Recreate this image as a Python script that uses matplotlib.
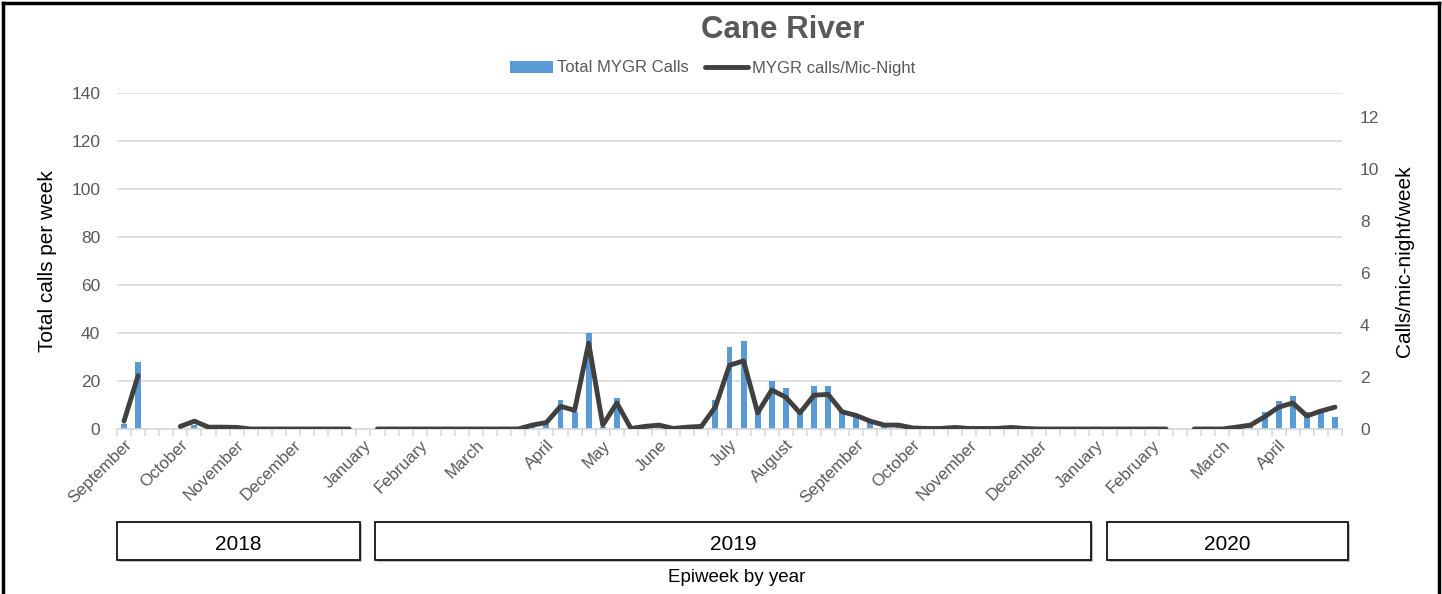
#! /bin/env python

# Cane River: weekly MYGR calls and calls per mic-night, Sept 2018 - April 2020.

import numpy as np
import matplotlib.pyplot as plt
from matplotlib.patches import Rectangle
import matplotlib.transforms as mtransforms

nan = np.nan

# one value per epiweek slot (87 slots), nan where there was no recording
total_calls = [
    2, 28, nan, nan, 0, 1.5, 0, 0, 0, 0, 0, 0, 0, 0, 0, 0, 0,          # 2018
    nan, 0, 0, 0, 0, 0, 0, 0, 0, 0, 0, 0, 2, 2.2, 12, 7, 40, 1, 13,    # 2019
    0, 1, 1, 0, 0.5, 1, 12, 34, 36.5, 8, 20, 17, 8, 18, 18, 7, 6, 3,
    2, 2, 0.5, 0, 0, 0, 0, 0, 0, 0.5, 0, 0, 0, 0, 0,
    0, 0, 0, 0, 0, 0, nan, 0, 0, 0, 0.5, 1.5, 7, 11.5, 13.8, 7, 8.5, 5,  # 2020
]
calls_per_mic_night = [
    0.3, 2.05, nan, nan, 0.1, 0.3, 0.07, 0.07, 0.06, 0, 0, 0, 0, 0, 0, 0, 0,
    nan, 0, 0, 0, 0, 0, 0, 0, 0, 0, 0, 0, 0.15, 0.25, 0.87, 0.72, 3.3, 0.15, 1.0,
    0.02, 0.1, 0.15, 0.02, 0.07, 0.1, 0.85, 2.45, 2.62, 0.62, 1.5, 1.22, 0.62, 1.3, 1.33, 0.66, 0.52, 0.3,
    0.15, 0.15, 0.04, 0.02, 0.02, 0.06, 0.02, 0.02, 0.02, 0.06, 0.02, 0, 0, 0, 0,
    0, 0, 0, 0, 0, 0, nan, 0, 0, 0, 0.07, 0.15, 0.47, 0.84, 1.0, 0.5, 0.69, 0.84,
]

month_slots = [0, 4, 8, 12, 17, 21, 25, 30, 34, 38, 43, 47, 52, 56, 60, 65, 69, 73, 78, 82]
month_names = ["September", "October", "November", "December", "January", "February",
               "March", "April", "May", "June", "July", "August", "September", "October",
               "November", "December", "January", "February", "March", "April"]

years = ["2018", "2019", "2020"]
year_spans = [(-0.5, 16.75), (17.8, 68.7), (69.8, 86.9)]

GRAY = "#595959"
BLUE = "#5b9bd5"
LINE = "#404040"


def show_chart():
    plt.rcParams['font.family'] = ['Liberation Sans', 'DejaVu Sans']
    fig = plt.figure(figsize=(14.42, 5.94), dpi=100)
    ax = fig.add_axes([0.0811, 0.2778, 0.8496, 0.5656])
    x = np.arange(len(total_calls))

    ax.bar(x, total_calls, width=0.42, color=BLUE, label="Total MYGR Calls", zorder=2)
    ax.set_xlim(-0.5, len(x) - 0.5)
    ax.set_ylim(0, 140)
    ax.set_yticks(range(0, 141, 20))
    ax.grid(axis='y', color="#d9d9d9", linewidth=1.2, zorder=0)
    for s in ['top', 'right', 'left']:
        ax.spines[s].set_visible(False)
    ax.spines['bottom'].set_color("#d9d9d9")
    ax.spines['bottom'].set_linewidth(1.2)
    ax.tick_params(axis='y', length=0, labelsize=12.5, labelcolor=GRAY, pad=12)
    ax.set_xticks(month_slots)
    ax.set_xticklabels(month_names, rotation=45, ha='right', rotation_mode='anchor',
                       fontsize=12.2, color=GRAY)
    ax.tick_params(axis='x', which='major', length=0, pad=6)
    ax.set_xticks(np.arange(-0.5, len(x), 1), minor=True)
    ax.tick_params(axis='x', which='minor', length=5, color="#d9d9d9", width=1.2)
    ax.set_ylabel("Total calls per week", fontsize=15)
    ax.yaxis.set_label_coords(-0.049, 0.5)

    ax2 = ax.twinx()
    ax2.plot(x, calls_per_mic_night, color=LINE, linewidth=3.5,
             solid_capstyle='round', solid_joinstyle='round', label="MYGR calls/Mic-Night", zorder=3)
    ax2.set_ylim(0, 12.92)
    ax2.set_yticks(range(0, 13, 2))
    for s in ax2.spines.values():
        s.set_visible(False)
    ax2.tick_params(axis='y', length=0, labelsize=12.5, labelcolor=GRAY, pad=13)
    ax2.set_ylabel("Calls/mic-night/week", fontsize=15, rotation=90)
    ax2.yaxis.set_label_coords(1.0433, 0.5)

    # year boxes under the month labels, with a faint drop shadow
    trans = mtransforms.blended_transform_factory(ax.transData, fig.transFigure)
    shadow = trans + mtransforms.ScaledTranslation(2 / 100, -2 / 100, fig.dpi_scale_trans)
    for name, (a, b) in zip(years, year_spans):
        fig.patches.append(Rectangle((a, 1 - 560 / 594), b - a, 38 / 594, transform=shadow,
                                     facecolor="#bfbfbf", edgecolor="none", zorder=0))
        fig.patches.append(Rectangle((a, 1 - 560 / 594), b - a, 38 / 594, transform=trans,
                                     facecolor="white", edgecolor="black", linewidth=1.2, zorder=1))
        fig.text((a + b) / 2, 1 - 545 / 594, name, transform=trans, ha='center', va='center',
                 fontsize=15)
    fig.text(0.511, 1 - 578 / 594, "Epiweek by year", ha='center', va='center', fontsize=13.5)

    fig.text(0.543, 1 - 30 / 594, "Cane River", ha='center', va='center', fontsize=22.5,
             fontweight='bold', color=GRAY)
    h1, l1 = ax.get_legend_handles_labels()
    h2, l2 = ax2.get_legend_handles_labels()
    fig.legend(h1 + h2, l1 + l2, loc='center', bbox_to_anchor=(0.494, 1 - 68 / 594), ncol=2,
               frameon=False, fontsize=12, labelcolor=GRAY, handlelength=2.6,
               handletextpad=0.2, columnspacing=1.0)

    # outer frame
    for xs, ys in [([0.002, 0.002], [0, 0.995]), ([0.998, 0.998], [0, 0.995]),
                   ([0.002, 0.998], [0.995, 0.995])]:
        fig.add_artist(plt.Line2D(xs, ys, color="black", linewidth=2.5, transform=fig.transFigure))

    fig.savefig("out.png", dpi=100)


if __name__ == "__main__":
    show_chart()
